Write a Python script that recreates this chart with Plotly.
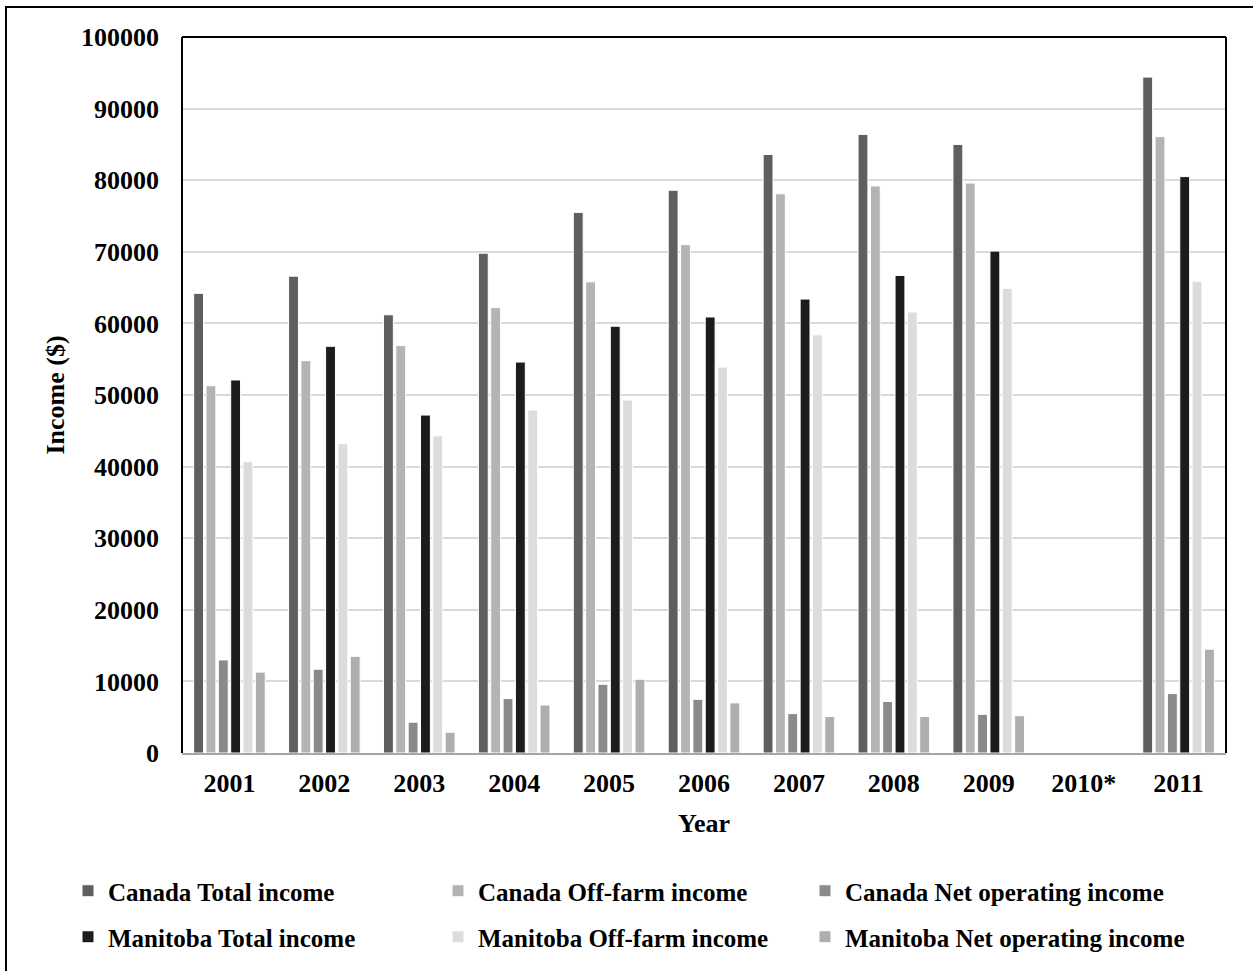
import plotly.graph_objects as go

years = ["2001", "2002", "2003", "2004", "2005", "2006", "2007", "2008", "2009", "2010*", "2011"]

canada_total = [64200, 66600, 61200, 69800, 75500, 78600, 83600, 86400, 85000, 0, 94400]
canada_offfarm = [51300, 54800, 56900, 62200, 65800, 71000, 78100, 79200, 79600, 0, 86100]
canada_netop = [13000, 11700, 4300, 7600, 9600, 7500, 5500, 7200, 5400, 0, 8300]
manitoba_total = [52100, 56800, 47200, 54600, 59600, 60900, 63400, 66700, 70100, 0, 80500]
manitoba_offfarm = [40700, 43200, 44300, 47900, 49300, 53900, 58400, 61600, 64900, 0, 65900]
manitoba_netop = [11300, 13500, 2900, 6700, 10300, 7000, 5100, 5100, 5200, 0, 14500]

series = [
    ("Canada Total income", canada_total, "#5f5f5f"),
    ("Canada Off-farm income", canada_offfarm, "#b4b4b4"),
    ("Canada Net operating income", canada_netop, "#8a8a8a"),
    ("Manitoba Total income", manitoba_total, "#1c1c1c"),
    ("Manitoba Off-farm income", manitoba_offfarm, "#dcdcdc"),
    ("Manitoba Net operating income", manitoba_netop, "#aeaeae"),
]

FONT = "Liberation Serif"
TICK = 26

W, H = 1253, 971
L, R, T, B = 182, 27, 37, 218
pw, ph = W - L - R, H - T - B


def px_x(x):
    return (x - L) / pw


def px_y(y):
    return (H - B - y) / ph


# legend grid: three columns, two rows (one legend box per entry)
col_left = [68, 438, 805]
row_top = [868, 914]

fig = go.Figure()
legends = {}
for i, (name, vals, color) in enumerate(series):
    key = "legend" if i == 0 else f"legend{i + 1}"
    fig.add_trace(go.Bar(
        x=years, y=vals, name=name, legend=key,
        marker=dict(color=color, line=dict(color="#ffffff", width=1)),
    ))
    legends[key] = dict(
        orientation="h", xanchor="left", yanchor="top",
        x=px_x(col_left[i % 3]), y=px_y(row_top[i // 3]),
        bgcolor="rgba(0,0,0,0)",
        font=dict(family=FONT, size=25, color="black", weight="bold"),
    )

fig.update_layout(
    width=W, height=H,
    margin=dict(l=L, r=R, t=T, b=B, autoexpand=False),
    paper_bgcolor="white", plot_bgcolor="white",
    barmode="group", bargap=0.22, bargroupgap=0.2,
    font=dict(family=FONT, size=TICK, color="black", weight="bold"),
    showlegend=True,
    xaxis=dict(
        title=dict(text="Year", font=dict(family=FONT, size=TICK, weight="bold"), standoff=17),
        showline=True, linecolor="#a6a6a6", linewidth=2,
        ticks="", ticklabelstandoff=6,
        tickfont=dict(family=FONT, size=TICK, weight="bold"),
        showgrid=False,
    ),
    yaxis=dict(
        title=dict(text="Income ($)", font=dict(family=FONT, size=TICK, weight="bold"), standoff=8),
        range=[0, 100000], dtick=10000, tickformat="d",
        showgrid=True, gridcolor="#d9d9d9", gridwidth=2,
        showline=False, ticks="", zeroline=False, ticklabelstandoff=22,
        tickfont=dict(family=FONT, size=TICK, weight="bold"),
    ),
    shapes=[
        # plot frame (top, left, right)
        dict(type="line", xref="paper", yref="paper", x0=0, x1=0, y0=0, y1=1,
             line=dict(color="black", width=2)),
        dict(type="line", xref="paper", yref="paper", x0=0, x1=1, y0=1, y1=1,
             line=dict(color="black", width=2)),
        dict(type="line", xref="paper", yref="paper", x0=1, x1=1, y0=0, y1=1,
             line=dict(color="black", width=2)),
        # outer border around the whole figure
        dict(type="rect", xref="paper", yref="paper",
             x0=px_x(6), x1=px_x(1262), y0=px_y(985), y1=px_y(7),
             line=dict(color="black", width=2)),
    ],
    **legends,
)

fig.write_html("out.html")
